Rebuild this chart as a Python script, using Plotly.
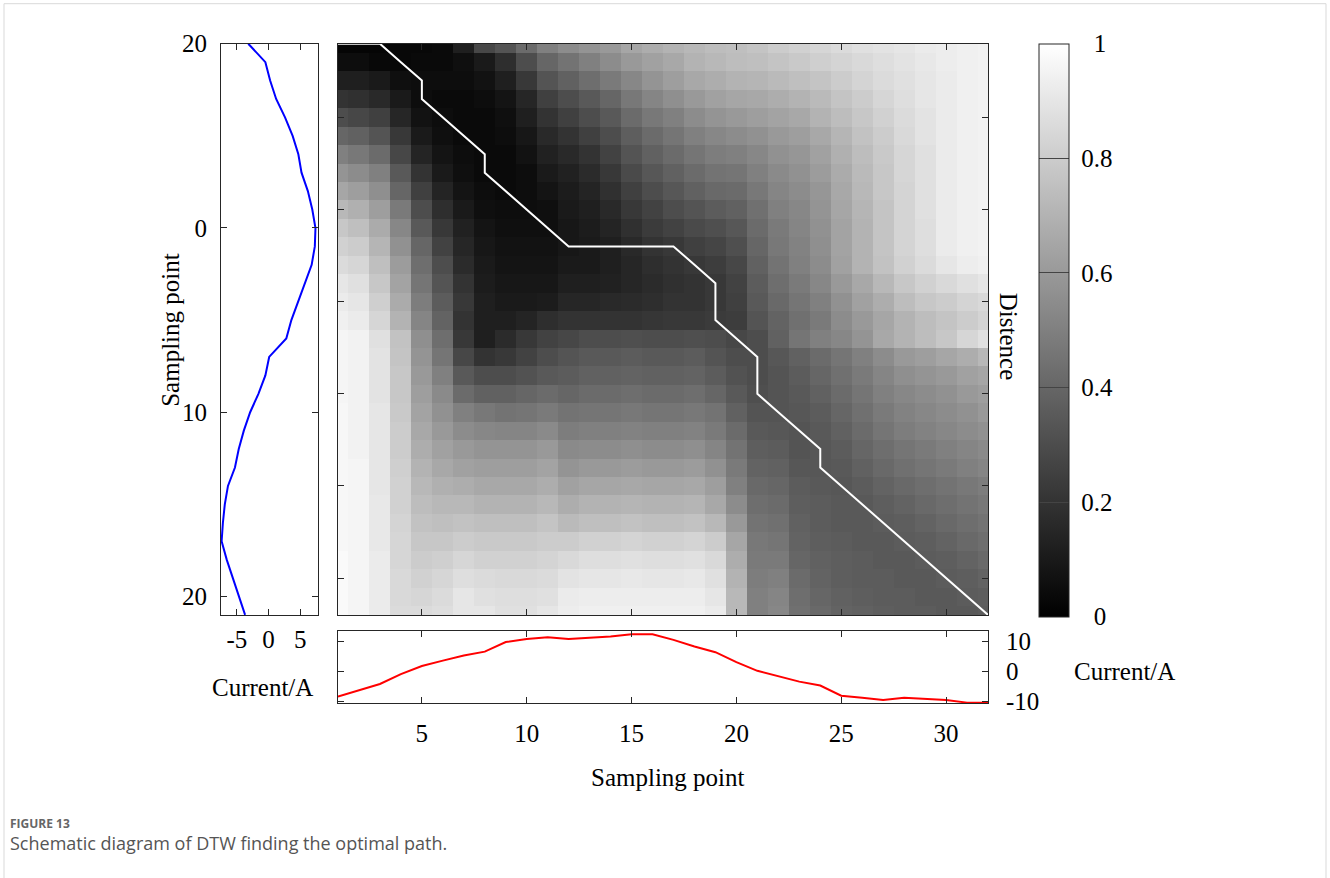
import plotly.graph_objects as go

# ---------------- data ----------------
sample_idx = list(range(1, 33))

# Blue series (reference, drawn vertically on the left panel), by sampling point 1..32
blue_current = [-3.2, -0.5, 0.25, 1.2, 2.6, 3.8, 4.7, 5.2, 6.2, 6.9, 7.4, 7.3, 6.8, 5.7, 4.7, 3.6,
                2.8, 0.1, -0.5, -1.6, -2.9, -3.9, -4.7, -5.3, -6.4, -6.9, -7.2, -7.4, -6.6, -5.6, -4.6, -3.7]

# Red series (bottom panel), by sampling point 1..32
red_current = [-8.4, -6.3, -4.2, -0.9, 1.8, 3.6, 5.3, 6.6, 9.8, 10.8, 11.4, 10.8, 11.2, 11.6, 12.4, 12.4,
               10.5, 8.3, 6.4, 3.1, 0.2, -1.7, -3.4, -4.7, -8.1, -8.8, -9.5, -8.8, -9.2, -9.5, -10.4, -10.4]

# Optimal DTW path (x = red index, y = blue index)
path_x = [1, 2, 3, 4, 5, 5, 6, 7, 8, 8, 9, 10, 11, 12, 13, 14, 15, 16, 17, 18, 19, 19, 19, 20, 21, 21, 21,
          22, 23, 24, 24, 25, 26, 27, 28, 29, 30, 31, 32]
path_y = [1, 1, 1, 2, 3, 4, 5, 6, 7, 8, 9, 10, 11, 12, 12, 12, 12, 12, 12, 13, 14, 15, 16, 17, 18, 19, 20,
          21, 22, 23, 24, 25, 26, 27, 28, 29, 30, 31, 32]

# Normalised distance matrix (rows = blue sampling point 1..32, cols = red sampling point 1..32)
distance = [
    [0.02,0.02,0.02,0.03,0.03,0.04,0.12,0.28,0.33,0.42,0.50, 0.55,0.58,0.60,0.65,0.68,0.70,0.72,0.74,0.75,0.77, 0.80,0.82,0.84,0.86,0.88,0.89,0.90,0.92,0.93,0.94,0.95],
    [0.05,0.05,0.03,0.03,0.04,0.04,0.06,0.10,0.18,0.30,0.40, 0.45,0.50,0.55,0.60,0.63,0.66,0.70,0.72,0.74,0.75, 0.77,0.79,0.81,0.83,0.85,0.87,0.89,0.91,0.93,0.94,0.95],
    [0.12,0.12,0.10,0.06,0.05,0.05,0.05,0.07,0.12,0.22,0.33, 0.38,0.43,0.48,0.53,0.58,0.62,0.66,0.68,0.70,0.71, 0.73,0.75,0.77,0.80,0.83,0.86,0.88,0.90,0.92,0.94,0.95],
    [0.20,0.19,0.16,0.10,0.05,0.04,0.04,0.05,0.08,0.15,0.25, 0.30,0.35,0.40,0.47,0.52,0.56,0.60,0.63,0.65,0.66, 0.68,0.70,0.73,0.77,0.80,0.84,0.87,0.90,0.92,0.94,0.95],
    [0.30,0.28,0.25,0.15,0.07,0.05,0.04,0.04,0.06,0.12,0.20, 0.25,0.30,0.35,0.42,0.47,0.50,0.55,0.58,0.60,0.62, 0.64,0.66,0.70,0.74,0.78,0.82,0.86,0.89,0.92,0.94,0.95],
    [0.40,0.38,0.33,0.22,0.10,0.06,0.04,0.04,0.05,0.09,0.16, 0.20,0.25,0.30,0.37,0.42,0.46,0.50,0.53,0.55,0.57, 0.60,0.62,0.66,0.71,0.76,0.80,0.85,0.89,0.92,0.94,0.95],
    [0.50,0.47,0.42,0.28,0.14,0.08,0.05,0.04,0.04,0.07,0.13, 0.16,0.20,0.26,0.33,0.38,0.42,0.46,0.49,0.50,0.53, 0.57,0.59,0.63,0.69,0.74,0.79,0.84,0.88,0.92,0.94,0.95],
    [0.58,0.55,0.50,0.35,0.20,0.10,0.06,0.04,0.04,0.05,0.10, 0.13,0.17,0.22,0.29,0.34,0.38,0.42,0.45,0.46,0.50, 0.54,0.57,0.61,0.67,0.73,0.78,0.84,0.88,0.92,0.94,0.95],
    [0.65,0.62,0.56,0.40,0.25,0.14,0.08,0.05,0.04,0.05,0.08, 0.11,0.14,0.19,0.25,0.30,0.34,0.38,0.41,0.42,0.47, 0.52,0.55,0.59,0.66,0.72,0.78,0.83,0.88,0.92,0.94,0.95],
    [0.72,0.69,0.62,0.48,0.30,0.18,0.10,0.06,0.05,0.05,0.06, 0.10,0.12,0.16,0.22,0.26,0.30,0.33,0.36,0.38,0.44, 0.50,0.53,0.58,0.65,0.71,0.77,0.83,0.88,0.92,0.94,0.95],
    [0.78,0.75,0.67,0.53,0.35,0.22,0.13,0.08,0.06,0.06,0.06, 0.09,0.11,0.14,0.19,0.23,0.26,0.29,0.31,0.34,0.42, 0.48,0.52,0.57,0.64,0.70,0.77,0.83,0.87,0.92,0.94,0.95],
    [0.82,0.80,0.71,0.57,0.40,0.26,0.15,0.09,0.07,0.07,0.07, 0.09,0.10,0.12,0.16,0.20,0.22,0.25,0.27,0.31,0.40, 0.47,0.51,0.56,0.64,0.70,0.77,0.83,0.87,0.92,0.94,0.95],
    [0.86,0.84,0.75,0.61,0.43,0.30,0.17,0.10,0.08,0.08,0.08, 0.10,0.10,0.12,0.15,0.18,0.20,0.22,0.24,0.28,0.38, 0.45,0.50,0.55,0.63,0.70,0.76,0.82,0.86,0.90,0.93,0.94],
    [0.90,0.88,0.78,0.64,0.46,0.33,0.20,0.11,0.09,0.09,0.09, 0.12,0.12,0.13,0.15,0.17,0.19,0.20,0.22,0.26,0.36, 0.43,0.48,0.53,0.60,0.66,0.72,0.78,0.82,0.85,0.88,0.90],
    [0.92,0.90,0.81,0.67,0.49,0.36,0.22,0.12,0.10,0.10,0.11, 0.15,0.15,0.16,0.17,0.18,0.20,0.20,0.22,0.25,0.35, 0.41,0.46,0.50,0.57,0.63,0.68,0.74,0.78,0.80,0.83,0.85],
    [0.94,0.92,0.84,0.70,0.52,0.39,0.20,0.12,0.12,0.14,0.18, 0.20,0.20,0.20,0.20,0.21,0.22,0.22,0.23,0.24,0.33, 0.39,0.44,0.48,0.55,0.60,0.65,0.70,0.74,0.77,0.80,0.83],
    [0.96,0.95,0.88,0.76,0.56,0.43,0.22,0.12,0.17,0.22,0.26, 0.28,0.30,0.30,0.31,0.30,0.30,0.31,0.30,0.28,0.30, 0.38,0.46,0.50,0.53,0.58,0.66,0.70,0.74,0.78,0.84,0.88],
    [0.96,0.95,0.89,0.77,0.58,0.46,0.28,0.20,0.22,0.26,0.30, 0.33,0.35,0.35,0.36,0.35,0.35,0.36,0.33,0.30,0.30, 0.34,0.38,0.42,0.46,0.50,0.55,0.60,0.62,0.65,0.68,0.72],
    [0.96,0.95,0.89,0.78,0.60,0.50,0.35,0.30,0.30,0.32,0.35, 0.36,0.38,0.38,0.39,0.38,0.38,0.39,0.36,0.32,0.30, 0.33,0.36,0.40,0.44,0.48,0.52,0.56,0.58,0.60,0.63,0.65],
    [0.96,0.95,0.89,0.78,0.62,0.54,0.42,0.38,0.38,0.40,0.42, 0.40,0.42,0.42,0.43,0.42,0.42,0.43,0.40,0.35,0.31, 0.33,0.35,0.38,0.42,0.46,0.50,0.53,0.55,0.57,0.60,0.62],
    [0.97,0.95,0.90,0.79,0.64,0.57,0.50,0.47,0.45,0.46,0.48, 0.45,0.46,0.46,0.47,0.46,0.46,0.47,0.45,0.38,0.33, 0.33,0.34,0.36,0.40,0.44,0.48,0.51,0.53,0.55,0.57,0.60],
    [0.97,0.95,0.90,0.80,0.66,0.60,0.55,0.53,0.52,0.52,0.54, 0.49,0.50,0.50,0.51,0.50,0.50,0.51,0.48,0.42,0.35, 0.34,0.33,0.35,0.38,0.42,0.46,0.49,0.51,0.53,0.55,0.57],
    [0.97,0.95,0.90,0.80,0.68,0.63,0.60,0.58,0.58,0.58,0.60, 0.54,0.55,0.55,0.56,0.55,0.55,0.56,0.52,0.45,0.37, 0.36,0.33,0.34,0.36,0.40,0.43,0.46,0.48,0.50,0.52,0.54],
    [0.97,0.96,0.90,0.81,0.70,0.66,0.63,0.62,0.62,0.62,0.64, 0.58,0.60,0.60,0.61,0.60,0.60,0.61,0.57,0.48,0.39, 0.38,0.34,0.34,0.35,0.38,0.41,0.44,0.46,0.48,0.50,0.52],
    [0.97,0.96,0.90,0.82,0.72,0.69,0.68,0.66,0.66,0.66,0.68, 0.63,0.65,0.65,0.66,0.65,0.65,0.66,0.62,0.50,0.41, 0.40,0.36,0.35,0.34,0.36,0.39,0.41,0.43,0.45,0.47,0.49],
    [0.97,0.96,0.91,0.82,0.74,0.72,0.72,0.70,0.70,0.70,0.72, 0.68,0.70,0.70,0.71,0.70,0.70,0.71,0.66,0.55,0.43, 0.42,0.37,0.36,0.35,0.35,0.37,0.39,0.41,0.43,0.45,0.47],
    [0.97,0.96,0.91,0.83,0.76,0.75,0.76,0.75,0.75,0.75,0.77, 0.73,0.75,0.75,0.76,0.75,0.75,0.76,0.72,0.60,0.45, 0.44,0.38,0.36,0.35,0.35,0.36,0.37,0.39,0.41,0.43,0.45],
    [0.97,0.96,0.91,0.84,0.78,0.78,0.80,0.79,0.79,0.79,0.80, 0.80,0.82,0.82,0.83,0.82,0.82,0.83,0.80,0.65,0.47, 0.46,0.39,0.37,0.36,0.35,0.35,0.36,0.37,0.39,0.41,0.43],
    [0.98,0.96,0.92,0.84,0.80,0.81,0.84,0.82,0.82,0.82,0.83, 0.85,0.87,0.87,0.88,0.87,0.87,0.88,0.85,0.68,0.48, 0.48,0.40,0.38,0.37,0.36,0.35,0.35,0.36,0.37,0.39,0.41],
    [0.98,0.96,0.92,0.85,0.82,0.84,0.87,0.86,0.85,0.85,0.86, 0.89,0.90,0.90,0.91,0.90,0.90,0.91,0.88,0.70,0.49, 0.50,0.42,0.39,0.37,0.36,0.36,0.35,0.35,0.36,0.37,0.39],
    [0.98,0.96,0.92,0.85,0.84,0.86,0.90,0.88,0.87,0.87,0.88, 0.92,0.93,0.93,0.93,0.93,0.93,0.93,0.90,0.72,0.50, 0.52,0.43,0.40,0.38,0.37,0.36,0.36,0.35,0.35,0.36,0.37],
    [0.98,0.96,0.92,0.86,0.86,0.87,0.90,0.90,0.88,0.88,0.90, 0.93,0.94,0.94,0.94,0.94,0.94,0.94,0.92,0.72,0.50, 0.53,0.44,0.41,0.39,0.38,0.37,0.36,0.36,0.35,0.35,0.36],
]

grid_ticks = [5, 10, 15, 20, 25, 30]
left_y_tickvals = [1, 11, 21, 31]
left_y_ticktext = ["20", "0", "10", "20"]
left_x_ticks = [-5, 0, 5]
left_x_ticktext = ["-5", "0", "5"]
bottom_y_ticks = [-10, 0, 10]
bottom_y_ticktext = ["-10", "0", "10"]
cbar_ticks = [0, 0.2, 0.4, 0.6, 0.8, 1]
cbar_text = ["0", "0.2", "0.4", "0.6", "0.8", "1"]

# ---------------- layout helpers ----------------
W, H = 1330, 878
# the captured page is slightly compressed vertically; compensate so marks land where intended
Y_SCALE, Y_OFF = 0.9712, 13.3
def fx(px):
    return px / W
def fy(py):
    return 1 - ((py - Y_OFF) / Y_SCALE) / H

SERIF = "Liberation Serif, Times New Roman, serif"
FS = 25
LINE = "#262626"

# centre the colourbar labels like the original (pad narrow labels)
cbar_labels = [("\u2005\u2002" if len(t) == 1 else "\u2005") + t for t in cbar_text]

fig = go.Figure()

fig.add_trace(go.Heatmap(
    x=sample_idx, y=sample_idx, z=distance,
    colorscale=[[0, "black"], [1, "white"]], zmin=0, zmax=1,
    xaxis="x", yaxis="y", hoverinfo="skip",
    colorbar=dict(
        x=fx(1039), xanchor="left", y=fy(44), yanchor="top",
        len=(fy(44) - fy(617)), lenmode="fraction", thickness=30, thicknessmode="pixels",
        outlinewidth=1, outlinecolor=LINE, xpad=0, ypad=0,
        ticks="inside", ticklen=30, tickwidth=1, tickcolor="#444",
        tickvals=cbar_ticks, ticktext=cbar_labels,
        tickfont=dict(family=SERIF, size=FS, color="black"),
    ),
))

fig.add_trace(go.Scatter(x=path_x, y=path_y, mode="lines",
                         line=dict(color="white", width=2), xaxis="x", yaxis="y",
                         hoverinfo="skip", showlegend=False))

fig.add_trace(go.Scatter(x=blue_current, y=sample_idx, mode="lines",
                         line=dict(color="#0000ff", width=2), xaxis="x2", yaxis="y2",
                         showlegend=False))

fig.add_trace(go.Scatter(x=sample_idx, y=red_current, mode="lines",
                         line=dict(color="#ff0000", width=2), xaxis="x3", yaxis="y3",
                         showlegend=False))

common = dict(showline=True, linecolor=LINE, linewidth=1, mirror="ticks", ticks="inside",
              ticklen=6, tickcolor=LINE, showgrid=False, zeroline=False,
              tickfont=dict(family=SERIF, size=FS, color="black"))

main_x = [fx(338), fx(988)]
main_y = [fy(615), fy(44)]

fig.update_layout(
    width=W, height=H, margin=dict(l=0, r=0, t=0, b=0),
    paper_bgcolor="white", plot_bgcolor="white", showlegend=False,
    xaxis=dict(domain=main_x, range=[1, 32], tickvals=grid_ticks, showticklabels=False,
               anchor="y", **common),
    yaxis=dict(domain=main_y, range=[32, 1], tickvals=grid_ticks, showticklabels=False,
               anchor="x", **common),
    xaxis2=dict(domain=[fx(221), fx(318)], range=[-7.5, 7.8], tickvals=left_x_ticks,
                ticktext=left_x_ticktext, anchor="y2", ticklabelstandoff=2, **common),
    yaxis2=dict(domain=main_y, range=[32, 1], tickvals=left_y_tickvals, ticktext=left_y_ticktext,
                anchor="x2", ticklabelstandoff=8, **common),
    xaxis3=dict(domain=main_x, range=[1, 32], tickvals=grid_ticks, anchor="y3",
                ticklabelstandoff=8, **common),
    yaxis3=dict(domain=[fy(703), fy(631)], range=[-10.5, 13.5], tickvals=bottom_y_ticks,
                ticktext=bottom_y_ticktext, side="right", anchor="x3", ticklabelstandoff=12, **common),
)

ann = [
    dict(text="Sampling point", x=fx(171), y=fy(330), textangle=-90),
    dict(text="Current/A", x=fx(262), y=fy(688)),
    dict(text="Sampling point", x=fx(668), y=fy(778)),
    dict(text="Current/A", x=fx(1124), y=fy(672)),
    dict(text="Distence", x=fx(1008), y=fy(336), textangle=90),
]
for a in ann:
    fig.add_annotation(xref="paper", yref="paper", showarrow=False, xanchor="center",
                       yanchor="middle", font=dict(family=SERIF, size=FS, color="black"), **a)

fig.add_annotation(xref="paper", yref="paper", x=fx(8), y=fy(824), xanchor="left", yanchor="middle",
                   showarrow=False, text="<b>FIGURE 13</b>",
                   font=dict(family="Open Sans, sans-serif", size=12, color="#666666"))
fig.add_annotation(xref="paper", yref="paper", x=fx(8), y=fy(843), xanchor="left", yanchor="middle",
                   showarrow=False, text="Schematic diagram of DTW finding the optimal path.",
                   font=dict(family="Open Sans, sans-serif", size=18, color="#555555"))

fig.add_shape(type="rect", xref="paper", yref="paper", x0=fx(4), x1=fx(1326), y0=-0.05, y1=fy(4),
              line=dict(color="#d9d9d9", width=1), fillcolor="rgba(0,0,0,0)", layer="below")

fig.write_html("out.html", config={"displayModeBar": False},
               post_script="document.body.style.margin='0px';document.body.style.overflow='hidden';")
